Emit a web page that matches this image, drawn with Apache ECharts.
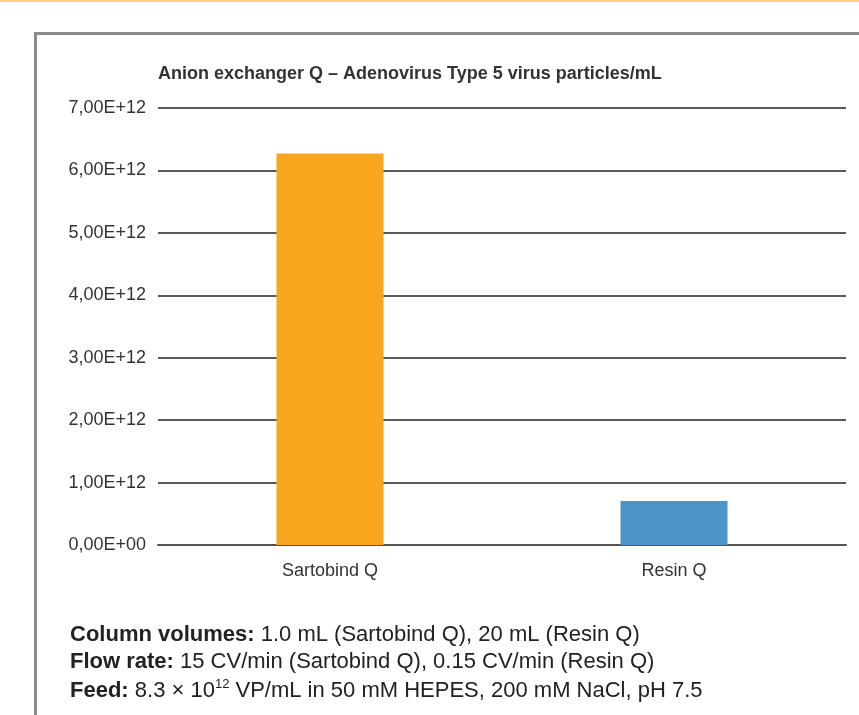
<!DOCTYPE html>
<html>
<head>
<meta charset="utf-8">
<script src="https://cdn.jsdelivr.net/npm/echarts@6/dist/echarts.min.js"></script>
<style>
html,body{margin:0;padding:0;background:#fff;}
#chart{width:859px;height:715px;}
</style>
</head>
<body>
<div id="chart"></div>
<script>
const categories = ['Sartobind Q', 'Resin Q'];
const values = [6.27e12, 0.705e12];
const barColors = ['#F7A61E', '#4D94C8'];
const titleText = 'Anion exchanger Q – Adenovirus Type 5 virus particles/mL';
const notes = [
  ['Column volumes:', ' 1.0 mL (Sartobind Q), 20 mL (Resin Q)'],
  ['Flow rate:', ' 15 CV/min (Sartobind Q), 0.15 CV/min (Resin Q)'],
  ['Feed:', ' 8.3 × 10', '12', ' VP/mL in 50 mM HEPES, 200 mM NaCl, pH 7.5']
];

const FONT = '"Liberation Sans", Arial, sans-serif';
const chart = echarts.init(document.getElementById('chart'));

function fmt(v) {
  if (v === 0) return '0,00E+00';
  return (v / 1e12).toFixed(2).replace('.', ',') + 'E+12';
}

const noteGraphics = notes.map((n, i) => {
  let text = '{b|' + n[0] + '}{n|' + n[1] + '}';
  if (n.length > 2) text += '{s|' + n[2] + '}{n|' + n[3] + '}';
  return {
    type: 'text',
    left: 70,
    top: 624 + i * 27,
    style: {
      text: text,
      rich: {
        b: {fontFamily: FONT, fontSize: 22, fontWeight: 'bold', fill: '#222', lineHeight: 26},
        n: {fontFamily: FONT, fontSize: 22, fill: '#222', lineHeight: 26},
        s: {fontFamily: FONT, fontSize: 13, fill: '#222', lineHeight: 26, verticalAlign: 'top', padding: [0, 0, 11, 0]}
      }
    }
  };
});

chart.setOption({
  animation: false,
  grid: {left: 158, right: 13, top: 108, bottom: 170, containLabel: false},
  title: {
    text: titleText,
    left: 158,
    top: 65,
    padding: 0,
    textStyle: {fontFamily: FONT, fontSize: 18, fontWeight: 'bold', color: '#333'}
  },
  xAxis: {
    type: 'category',
    data: categories,
    axisLine: {show: true, lineStyle: {color: '#555', width: 2}},
    axisTick: {show: false},
    axisLabel: {fontFamily: FONT, fontSize: 18, color: '#333', margin: 17}
  },
  yAxis: {
    type: 'value',
    min: 0,
    max: 7e12,
    interval: 1e12,
    axisLine: {show: false},
    axisTick: {show: false},
    axisLabel: {fontFamily: FONT, fontSize: 18, color: '#333', margin: 12, formatter: fmt},
    splitLine: {lineStyle: {color: '#222', width: 1.5}}
  },
  series: [{
    type: 'bar',
    barWidth: 107,
    data: values.map((v, i) => ({value: v, itemStyle: {color: barColors[i]}}))
  }],
  graphic: [
    {type: 'rect', shape: {x: 0, y: 0, width: 859, height: 2}, style: {fill: '#FFD27F'}, silent: true},
    {type: 'rect', shape: {x: 35.5, y: 33.5, width: 900, height: 800}, style: {fill: 'none', stroke: '#8a8a8a', lineWidth: 3}, silent: true, z: -1}
  ].concat(noteGraphics)
});
</script>
</body>
</html>
